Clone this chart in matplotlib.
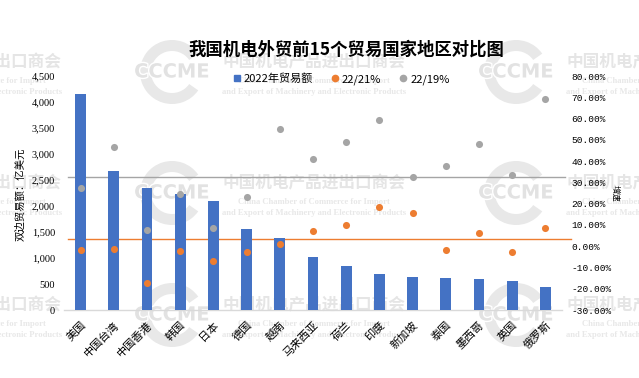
import matplotlib
matplotlib.use("Agg")
import matplotlib.pyplot as plt
from matplotlib.lines import Line2D
from matplotlib.patches import Wedge
from matplotlib.transforms import blended_transform_factory
import matplotlib.patheffects as pe

plt.rcParams['font.family'] = ['Noto Sans CJK SC', 'DejaVu Sans']

# ---------------- data ----------------
categories = ['美国', '中国台湾', '中国香港', '韩国', '日本', '德国', '越南', '马来西亚',
              '荷兰', '印度', '新加坡', '泰国', '墨西哥', '英国', '俄罗斯']
trade_2022 = [4150, 2680, 2350, 2240, 2100, 1560, 1390, 1020,
              850, 690, 635, 615, 600, 560, 440]
growth_22_21 = [-1.7, -1.2, -17.2, -2.1, -6.8, -2.6, 1.2, 7.3,
                10.1, 18.6, 15.7, -1.7, 6.3, -2.6, 8.7]
growth_22_19 = [27.5, 46.8, 7.7, 24.7, 8.7, 23.3, 55.2, 41.1,
                49.1, 59.5, 32.7, 37.8, 48.2, 33.6, 69.3]
ref_22_19 = 32.4   # gray reference line (right axis, %)
ref_22_21 = 3.4    # orange reference line (right axis, %)

left_ticks = list(range(0, 4501, 500))
right_ticks = list(range(-30, 81, 10))

title = '我国机电外贸前15个贸易国家地区对比图'
legend_labels = ['2022年贸易额', '22/21%', '22/19%']
ylabel_left = '双边贸易额：亿美元'
ylabel_right = '增速'

BLUE = '#4472C4'
ORANGE = '#ED7D31'
GRAY = '#A5A5A5'

W, H = 639, 378
fig = plt.figure(figsize=(W / 100, H / 100), dpi=100)
fig.patch.set_facecolor('white')

# ---------------- watermark layer ----------------
wm = fig.add_axes([0, 0, 1, 1], zorder=-5)
wm.set_xlim(0, W)
wm.set_ylim(H, 0)
wm.axis('off')
wm_c = '#e5e5e5'
for cy in (62, 183, 305):
    for cx in (-30, 314, 658):
        wm.text(cx, cy, '中国机电产品进出口商会', ha='center', va='center',
                fontsize=12, fontweight='bold', color=wm_c)
        wm.text(cx, cy + 19, 'China Chamber of Commerce for Import', ha='center',
                va='center', fontsize=6.2, fontweight='bold', color='#e8e8e8',
                family='Liberation Serif')
        wm.text(cx, cy + 30, 'and Export of Machinery and Electronic Products',
                ha='center', va='center', fontsize=6.2, fontweight='bold',
                color='#e8e8e8', family='Liberation Serif')
        lx, ly = cx - 142, cy + 10
        wm.add_patch(Wedge((lx, ly), 32, 35, 325, width=11, color='#e8e8e8', lw=0))
        wm.text(lx, ly, 'CCCME', ha='center', va='center', fontsize=14,
                fontweight='bold', color='#e2e2e2', family='DejaVu Sans',
                path_effects=[pe.withStroke(linewidth=2, foreground='white')])

# ---------------- main axes ----------------
ax = fig.add_axes([64 / W, 1 - 310 / H, 498 / W, 234 / H])
ax.patch.set_visible(False)
ax2 = ax.twinx()
ax2.patch.set_visible(False)

x = list(range(len(categories)))
ax.bar(x, trade_2022, width=0.33, color=BLUE, zorder=3)
ax.set_xlim(-0.5, len(categories) - 0.5)
ax.set_ylim(0, 4500)
ax2.set_ylim(-30, 80)

# reference lines (drawn behind bars, y in right-axis units)
tr = blended_transform_factory(ax.transAxes, ax2.transData)
ax.plot([0.008, 1.006], [ref_22_19, ref_22_19], color=GRAY, lw=1.0,
        transform=tr, clip_on=False, zorder=1)
ax.plot([0.008, 1.018], [ref_22_21, ref_22_21], color=ORANGE, lw=1.0,
        transform=tr, clip_on=False, zorder=1)

ax2.scatter(x, growth_22_21, s=26, color=ORANGE, zorder=4, linewidths=0)
ax2.scatter(x, growth_22_19, s=26, color=GRAY, zorder=4, linewidths=0)

for s in ['top', 'left', 'right']:
    ax.spines[s].set_visible(False)
    ax2.spines[s].set_visible(False)
ax2.spines['bottom'].set_visible(False)
ax.spines['bottom'].set_color('#d9d9d9')
ax.spines['bottom'].set_linewidth(1.0)

ax.set_yticks(left_ticks)
ax.set_yticklabels([f'{v:,}' for v in left_ticks], family='Liberation Serif',
                   fontsize=7.5)
ax.tick_params(axis='y', length=0, pad=6.5, colors='black')
ax2.set_yticks(right_ticks)
ax2.set_yticklabels([f'{v:.2f}%' for v in right_ticks], family='Liberation Mono',
                    fontsize=6.8)
ax2.tick_params(axis='y', length=0, pad=7, colors='black')

ax.set_xticks(x)
ax.set_xticklabels(categories, rotation=45, ha='right', va='top',
                   rotation_mode='anchor', fontsize=8)
ax.tick_params(axis='x', length=0, pad=7)

fig.text(20 / W, 1 - 194 / H, ylabel_left, rotation=90, ha='center', va='center',
         fontsize=7.5)
fig.text(615 / W, 1 - 193 / H, ylabel_right, rotation=270, ha='center', va='center',
         fontsize=6)

fig.text(346 / W, 1 - 50 / H, title, ha='center', va='center', fontsize=12.5,
         fontweight='bold')

handles = [Line2D([], [], marker='s', ls='none', color=BLUE, markersize=4.5),
           Line2D([], [], marker='o', ls='none', color=ORANGE, markersize=4.5),
           Line2D([], [], marker='o', ls='none', color=GRAY, markersize=4.5)]
fig.legend(handles, legend_labels, loc='center', bbox_to_anchor=(341 / W, 1 - 79 / H),
           ncol=3, frameon=False, fontsize=8, handlelength=0.8, handletextpad=0.2,
           columnspacing=1.6, borderpad=0)

fig.savefig('out.png', dpi=100, facecolor='white')
